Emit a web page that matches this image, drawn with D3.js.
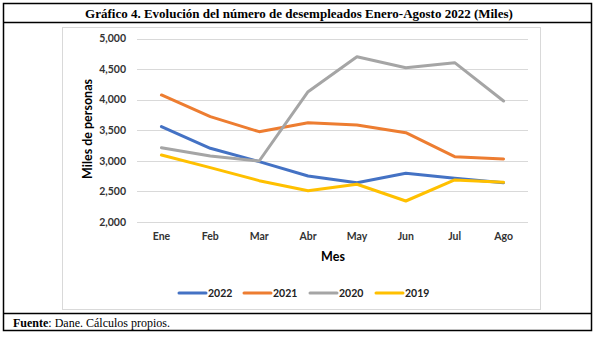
<!DOCTYPE html>
<html lang="es">
<head>
<meta charset="UTF-8">
<title>Evolución del número de desempleados</title>
<script src="https://d3js.org/d3.v7.min.js"></script>
<style>
  body { margin: 0; background: #fff; }
  .title { font-family: "Liberation Serif", serif; font-weight: bold; font-size: 13px; }
  .note { font-family: "Liberation Serif", serif; font-size: 12px; }
  .tick text { font-family: Lato, sans-serif; font-weight: bold; font-size: 10.5px; fill: #333; }
  .axis-title { font-family: Lato, sans-serif; font-weight: bold; fill: #000; }
  .legend text { font-family: Lato, sans-serif; font-weight: bold; font-size: 10.5px; fill: #222; }
  .line { fill: none; stroke-width: 3; stroke-linejoin: round; stroke-linecap: round; }
</style>
</head>
<body>
<div id="chart"></div>
<script>
const months = ["Ene", "Feb", "Mar", "Abr", "May", "Jun", "Jul", "Ago"];
const yTicks = [2000, 2500, 3000, 3500, 4000, 4500, 5000];

const v2022 = [3556, 3202, 2983, 2748, 2639, 2792, 2710, 2639];
const v2021 = [4075, 3720, 3474, 3621, 3583, 3458, 3065, 3027];
const v2020 = [3212, 3076, 2994, 4129, 4702, 4522, 4604, 3976];
const v2019 = [3092, 2885, 2672, 2508, 2613, 2339, 2683, 2645];

const series = [
  { name: "2022", values: v2022, color: "#4472C4" },
  { name: "2021", values: v2021, color: "#ED7D31" },
  { name: "2020", values: v2020, color: "#A5A5A5" },
  { name: "2019", values: v2019, color: "#FFC000" }
];

const W = 609, H = 338;
const svg = d3.select("#chart").append("svg")
  .attr("width", W).attr("height", H);

// table frame with title row and source row
svg.append("rect").attr("x", 3.5).attr("y", 3.5).attr("width", 588).attr("height", 327)
  .attr("fill", "none").attr("stroke", "#000").attr("stroke-width", 1.5);
svg.append("line").attr("x1", 3.5).attr("x2", 591.5).attr("y1", 22.5).attr("y2", 22.5)
  .attr("stroke", "#000").attr("stroke-width", 1.5);
svg.append("line").attr("x1", 3.5).attr("x2", 591.5).attr("y1", 313.5).attr("y2", 313.5)
  .attr("stroke", "#000").attr("stroke-width", 1.5);

svg.append("text").attr("class", "title")
  .attr("x", 299).attr("y", 18).attr("text-anchor", "middle")
  .text("Gráfico 4. Evolución del número de desempleados Enero-Agosto 2022 (Miles)");

const note = svg.append("text").attr("class", "note").attr("x", 13).attr("y", 327);
note.append("tspan").attr("font-weight", "bold").text("Fuente");
note.append("tspan").text(": Dane. Cálculos propios.");

// chart area box
svg.append("rect").attr("x", 62.5).attr("y", 27.5).attr("width", 478).attr("height", 282)
  .attr("fill", "#fff").attr("stroke", "#d9d9d9");

const x = d3.scaleBand().domain(months).range([137, 528]);
const y = d3.scaleLinear().domain([2000, 5000]).range([221.7, 38.5]);

// gridlines
svg.append("g").selectAll("line").data(yTicks).join("line")
  .attr("x1", 137).attr("x2", 528)
  .attr("y1", d => Math.round(y(d)) + 0.5).attr("y2", d => Math.round(y(d)) + 0.5)
  .attr("stroke", "#d9d9d9");

const yAxis = svg.append("g").attr("transform", "translate(126,0)")
  .call(d3.axisLeft(y).tickValues(yTicks).tickFormat(d3.format(",")).tickSize(0).tickPadding(0));
yAxis.select(".domain").remove();

const xAxis = svg.append("g").attr("transform", "translate(0,227)")
  .call(d3.axisBottom(x).tickSize(0).tickPadding(6));
xAxis.select(".domain").remove();

svg.append("text").attr("class", "axis-title")
  .attr("transform", "translate(92,129) rotate(-90)")
  .attr("text-anchor", "middle").attr("font-size", 12.5)
  .text("Miles de personas");

svg.append("text").attr("class", "axis-title")
  .attr("x", 333).attr("y", 261).attr("text-anchor", "middle").attr("font-size", 12.5)
  .text("Mes");

const line = d3.line()
  .x((d, i) => x(months[i]) + x.bandwidth() / 2)
  .y(d => y(d));

svg.append("g").selectAll("path").data(series).join("path")
  .attr("class", "line")
  .attr("stroke", d => d.color)
  .attr("d", d => line(d.values));

// legend
const legendX = [179, 244, 310, 376];
const legend = svg.append("g").attr("class", "legend");
series.forEach((s, i) => {
  const g = legend.append("g").attr("transform", `translate(${legendX[i]},293)`);
  g.append("line").attr("x1", 0).attr("x2", 27).attr("y1", 0).attr("y2", 0)
    .attr("stroke", s.color).attr("stroke-width", 3).attr("stroke-linecap", "round");
  g.append("text").attr("x", 29).attr("y", 3.7).text(s.name);
});
</script>
</body>
</html>
